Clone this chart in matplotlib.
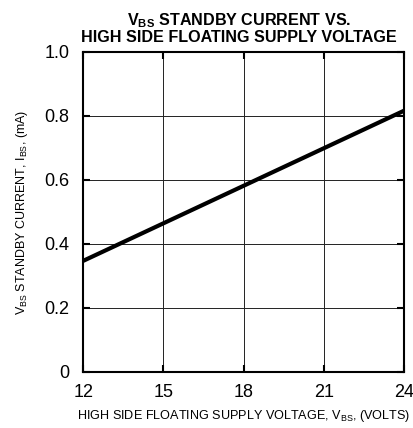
import matplotlib
matplotlib.use("Agg")
import matplotlib.pyplot as plt

plt.rcParams['font.family'] = ['Liberation Sans', 'DejaVu Sans']
plt.rcParams['mathtext.fontset'] = 'custom'
plt.rcParams['mathtext.rm'] = 'Liberation Sans'
plt.rcParams['mathtext.bf'] = 'Liberation Sans:bold'

vbs = [12, 24]
ibs = [0.347, 0.816]
xticks = [12, 15, 18, 21, 24]
yticks = [0, 0.2, 0.4, 0.6, 0.8, 1.0]
ytick_labels = ['0', '0.2', '0.4', '0.6', '0.8', '1.0']

fig = plt.figure(figsize=(4.14, 4.28), dpi=100)
ax = fig.add_axes([0.201, 0.131, 0.775, 0.748])
ax.plot(vbs, ibs, color='black', linewidth=3.0, solid_capstyle='butt')
ax.set_xlim(12, 24)
ax.set_ylim(0, 1.0)
ax.set_xticks(xticks)
ax.set_xticklabels([str(t) for t in xticks], fontsize=13)
ax.set_yticks(yticks)
ax.set_yticklabels(ytick_labels, fontsize=13)
ax.grid(True, color='#222222', linewidth=0.7)
ax.tick_params(direction='in', length=5, width=1.5, top=True, right=True, pad=9)
ax.tick_params(axis='y', pad=10)
for s in ax.spines.values():
    s.set_linewidth(1.5)
ax.set_xlabel(r'HIGH SIDE FLOATING SUPPLY VOLTAGE, $\mathregular{V_{BS}}$, (VOLTS)', fontsize=9.1, labelpad=5)
ax.set_ylabel(r'$\mathregular{V_{BS}}$ STANDBY CURRENT, $\mathregular{I_{BS}}$, (mA)', fontsize=9.0, labelpad=10)
ax.set_title(r'$\mathbf{V_{BS}}$ STANDBY CURRENT VS.' + '\nHIGH SIDE FLOATING SUPPLY VOLTAGE',
             fontsize=11.6, fontweight='bold', pad=7, linespacing=1.0, x=0.485)
fig.savefig('out.png', dpi=100)
